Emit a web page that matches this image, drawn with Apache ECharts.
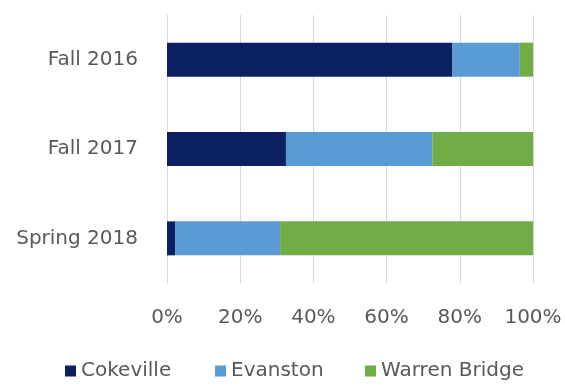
<!DOCTYPE html>
<html>
<head>
<meta charset="utf-8">
<script src="https://cdn.jsdelivr.net/npm/echarts@6/dist/echarts.min.js"></script>
<style>
  html, body { margin: 0; padding: 0; background: #ffffff; }
  #chart { width: 565px; height: 386px; }
</style>
</head>
<body>
<div id="chart"></div>
<script>
// Terms, listed top to bottom
const terms = ['Fall 2016', 'Fall 2017', 'Spring 2018'];
// Share of each campus per term (percent)
const cokeville = [78.0, 32.5, 2.2];
const evanston = [18.4, 40.0, 28.7];
const warrenBridge = [3.6, 27.5, 69.1];
const axisTicks = [0, 20, 40, 60, 80, 100];

const FONT = '"DejaVu Sans", sans-serif';
const TEXT = '#595959';

const seriesDefs = [
  { name: 'Cokeville', data: cokeville, color: '#0b2161', legendLeft: 65 },
  { name: 'Evanston', data: evanston, color: '#5b9bd5', legendLeft: 215 },
  { name: 'Warren Bridge', data: warrenBridge, color: '#70ad47', legendLeft: 365 }
];

const chart = echarts.init(document.getElementById('chart'), null, { renderer: 'canvas' });
chart.setOption({
  animation: false,
  backgroundColor: '#ffffff',
  grid: { left: 167, right: 32, top: 15, bottom: 103, containLabel: false },
  // one legend entry per block so each sits at its own x
  legend: seriesDefs.map(s => ({
    data: [s.name],
    left: s.legendLeft,
    top: 361,
    padding: 0,
    itemWidth: 11,
    itemHeight: 11,
    icon: 'rect',
    textStyle: { fontFamily: FONT, fontSize: 20, color: TEXT }
  })),
  xAxis: {
    type: 'value',
    min: axisTicks[0],
    max: axisTicks[axisTicks.length - 1],
    interval: 20,
    axisLine: { show: false },
    axisTick: { show: false },
    splitLine: { show: true, lineStyle: { color: '#d9d9d9', width: 1 } },
    axisLabel: {
      margin: 25,
      fontFamily: FONT,
      fontSize: 20,
      color: TEXT,
      formatter: v => v + '%'
    }
  },
  yAxis: {
    type: 'category',
    data: terms,
    inverse: true,
    axisLine: { show: true, lineStyle: { color: '#d9d9d9' } },
    axisTick: { show: false },
    axisLabel: { margin: 29, fontFamily: FONT, fontSize: 20, color: TEXT }
  },
  series: seriesDefs.map(s => ({
    name: s.name,
    type: 'bar',
    stack: 'total',
    data: s.data,
    barWidth: 34,
    itemStyle: { color: s.color }
  }))
});
</script>
</body>
</html>
